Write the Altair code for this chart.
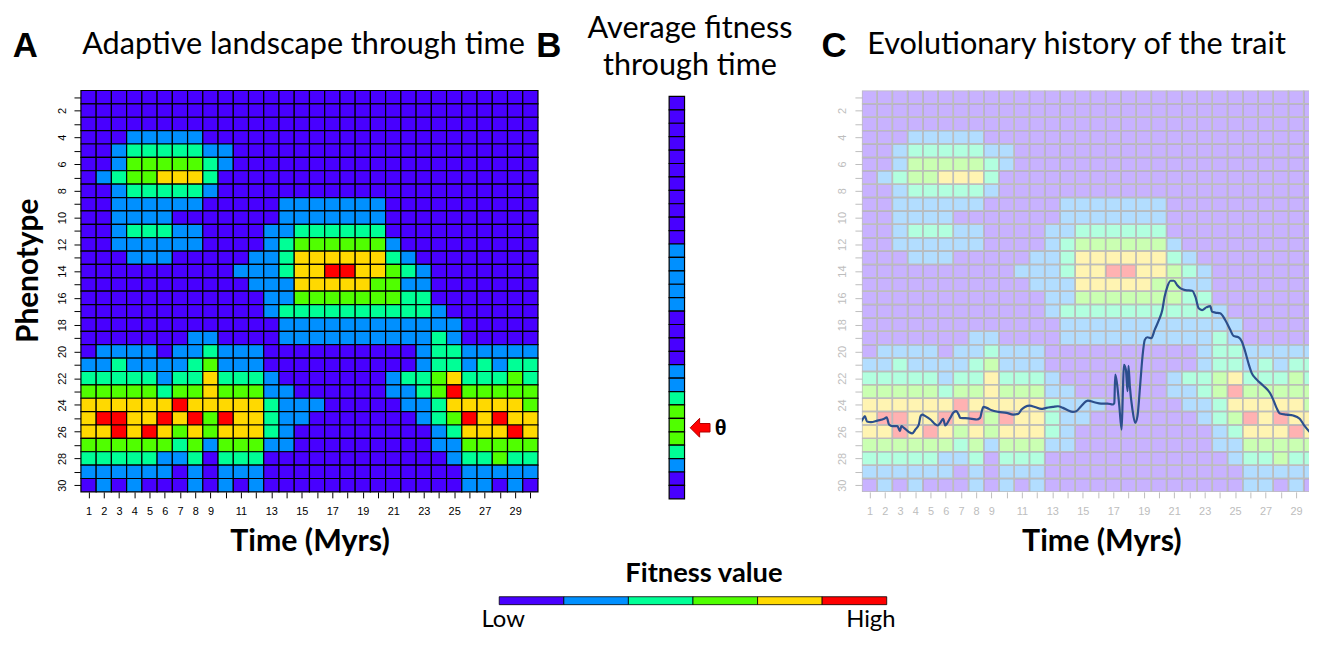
import altair as alt
import pandas as pd

# ---------------- data ----------------
levels = [0, 1, 2, 3, 4, 5]
level_colors = ["#4800FF", "#0090FF", "#00FF96", "#50FF00", "#FFD900", "#FF0000"]

# fitness class for phenotype rows 1..30 (top to bottom), time steps 1..30 (left to right)
landscape_rows = [
    "000000000000000000000000000000",
    "000000000000000000000000000000",
    "000000000000000000000000000000",
    "000111110000000000000000000000",
    "001222221100000000000000000000",
    "001333332100000000000000000000",
    "012334442000000000000000000000",
    "001222221000000000000000000000",
    "001111110000011111110000000000",
    "001111000000011111110000000000",
    "001222110000112222220000000000",
    "001111110000123333331000000000",
    "000111000001124444442100000000",
    "000000000011124455443210000000",
    "000000000001114444433110000000",
    "000000000000113333333220000000",
    "000000000000122222222221000000",
    "000000000000011111111111100000",
    "000000011000011111111112100000",
    "011110112111000000000012211111",
    "112111123111000000000012212122",
    "222221224222100000001223422232",
    "333332334333110000001123533333",
    "444444544444211100000112444443",
    "455445453544211000000012354544",
    "445454343444210000000001244454",
    "333333231333110000000001133333",
    "222221120222000000000000122322",
    "111111010111000000000000011111",
    "010100010101000000000000011010",
]

# average fitness class per phenotype (panel B)
avg_fitness = [0, 0, 0, 0, 0, 0, 0, 0, 0, 0, 0,
               1, 1, 1, 1, 1,
               0, 0, 0, 0,
               1, 1, 2, 3, 3, 3, 2, 1, 0, 0]
theta_pheno = [25.2]

# evolutionary history of the trait (panel C)
line_time = [0.26, 0.54, 0.70, 0.83, 1.09, 1.52, 1.96, 2.13, 2.28, 2.50, 2.83, 3.00,
             3.09, 3.26, 3.59, 3.80, 4.02, 4.24, 4.35, 4.46, 4.67, 5.00, 5.33, 5.48,
             5.65, 5.83, 5.98, 6.09, 6.30, 6.52, 6.70, 6.85, 6.96, 7.28, 7.72, 8.04,
             8.26, 8.37, 8.48, 8.70, 9.02, 9.46, 10.00, 10.43, 10.76, 10.98, 11.20,
             11.52, 11.85, 12.28, 12.61, 13.04, 13.37, 13.70, 14.02, 14.35, 14.57,
             14.89, 15.22, 15.33, 15.76, 16.20, 16.63, 16.96, 17.07, 17.13, 17.24,
             17.40, 17.55, 17.63, 17.70, 17.83, 17.94, 18.00, 18.09, 18.26, 18.44,
             18.59, 18.76, 18.92, 19.07, 19.24, 19.50, 19.72, 20.00, 20.22, 20.37,
             20.55, 20.76, 20.98, 21.20, 21.42, 21.74, 22.18, 22.39, 22.61, 22.83,
             23.11, 23.37, 23.48, 23.70, 24.02, 24.35, 24.68, 24.89, 25.22, 25.44,
             25.66, 25.87, 26.09, 26.42, 26.85, 27.29, 27.50, 27.72, 27.94, 28.37,
             28.81, 29.24, 29.57, 29.94]
line_pheno = [25.59, 25.09, 24.84, 25.24, 25.29, 25.17, 25.04, 24.92, 25.46, 25.59, 25.59, 25.96,
              25.59, 25.71, 26.03, 26.13, 25.83, 25.46, 24.84, 24.72, 24.84, 25.09, 25.46, 25.54,
              25.34, 25.04, 25.54, 25.39, 24.97, 24.55, 24.47, 24.72, 24.97, 24.99, 25.04, 25.09,
              24.97, 24.47, 24.15, 24.22, 24.40, 24.52, 24.59, 24.72, 24.67, 24.35, 24.15,
              24.05, 24.15, 24.30, 24.22, 24.15, 24.10, 24.22, 24.40, 24.52, 24.47,
              24.10, 23.73, 23.68, 23.80, 23.90, 23.90, 23.97, 23.85, 21.74, 22.36,
              24.10, 25.84, 23.11, 21.00, 21.37, 22.98, 21.07, 22.61, 24.35, 25.34,
              24.84, 22.61, 20.38, 19.14, 18.94, 19.01, 18.39, 17.65, 16.91, 15.91,
              15.17, 14.72, 14.72, 15.05, 15.29, 15.42, 15.47, 15.91, 16.78, 16.91,
              16.71, 16.61, 17.03, 17.10, 17.15, 17.65, 18.39, 18.84, 18.94, 19.26,
              20.01, 20.87, 21.62, 22.11, 22.56, 23.11, 23.60, 24.22, 24.64, 24.72,
              24.79, 25.04, 25.59, 26.08]

# ---------------- tables ----------------
grid_df = pd.DataFrame([
    {"time": t + 1, "pheno": r + 1, "level": int(ch)}
    for r, row in enumerate(landscape_rows) for t, ch in enumerate(row)
])
avg_df = pd.DataFrame({"pheno": list(range(1, 31)), "level": avg_fitness})
line_df = pd.DataFrame({"time": line_time, "pheno": line_pheno})
legend_df = pd.DataFrame({"level": levels})

TITLE_FONT = "Lato"
TICK_FONT = "Liberation Sans"

color_enc = alt.Color("level:O", scale=alt.Scale(domain=levels, range=level_colors), legend=None)
y_scale = alt.Scale(domain=[0.5, 30.5], nice=False, zero=False, reverse=True)


def x_axis(color, title_x, ticks):
    return alt.Axis(values=ticks, labelExpr="datum.value < 10 || datum.value % 2 == 1 ? datum.label : ''",
                    domain=False, grid=False, tickSize=6, tickColor=color, tickWidth=1,
                    labelFont=TICK_FONT, labelFontSize=11, labelColor=color, labelPadding=8,
                    labelOverlap=False, labelFlush=False, labelAngle=0, labelBound=False,
                    title="Time (Myrs)", titleFont=TITLE_FONT, titleFontSize=30.5, titleFontWeight="bold",
                    titleColor="black", titleX=title_x, titleY=59, titleAlign="center",
                    titleBaseline="alphabetic")


def y_axis(color, title):
    kw = dict(values=list(range(1, 31)), labelExpr="datum.value % 2 == 0 ? datum.label : ''",
              domain=False, grid=False, tickSize=7, tickColor=color, tickWidth=1,
              labelFont=TICK_FONT, labelFontSize=11, labelColor=color, labelPadding=7,
              labelOverlap=False, labelFlush=False, labelAngle=270, labelAlign="center",
              labelBaseline="bottom", labelBound=False)
    if title:
        kw.update(title="Phenotype", titleFont=TITLE_FONT, titleFontSize=30, titleFontWeight="bold",
                  titleColor="black", titleAngle=270, titleX=-44, titleY=181, titleAlign="center",
                  titleBaseline="alphabetic")
    else:
        kw.update(title=None)
    return alt.Axis(**kw)


def label(text, x, y, size, font, weight="normal"):
    return alt.Chart(pd.DataFrame({"t": [text]})).mark_text(
        font=font, fontSize=size, fontWeight=weight, align="center", baseline="alphabetic", color="black"
    ).encode(x=alt.value(x), y=alt.value(y), text="t:N")


# ---------------- panel A ----------------
cells_a = alt.Chart(grid_df).transform_calculate(
    t0="datum.time - 0.5", t1="datum.time + 0.5", p0="datum.pheno - 0.5", p1="datum.pheno + 0.5"
).mark_rect(stroke="black", strokeWidth=1.2).encode(
    x=alt.X("t0:Q", scale=alt.Scale(domain=[0.5, 30.5], nice=False, zero=False),
            axis=x_axis("black", 230, list(range(1, 31)))),
    x2="t1:Q",
    y=alt.Y("p0:Q", scale=y_scale, axis=y_axis("black", True)),
    y2="p1:Q",
    color=color_enc,
)
panel_a = alt.layer(
    cells_a,
    label("A", -56, -34, 35, TICK_FONT, "bold"),
    label("Adaptive landscape through time", 224, -37, 30.8, TITLE_FONT),
).properties(width=460, height=404)

# ---------------- panel B ----------------
strip_b = alt.Chart(avg_df).transform_calculate(
    x0="0", x1="1", p0="datum.pheno - 0.5", p1="datum.pheno + 0.5"
).mark_rect(stroke="black", strokeWidth=1.2).encode(
    x=alt.X("x0:Q", scale=alt.Scale(domain=[0, 1], range=[0, 15.5], nice=False, zero=False), axis=None),
    x2="x1:Q",
    y=alt.Y("p0:Q", scale=alt.Scale(domain=[0.5, 30.5], range=[6, 411], nice=False, zero=False), axis=None),
    y2="p1:Q",
    color=color_enc,
)
theta_df = pd.DataFrame({"pheno": theta_pheno, "ax": [1.98], "tx": [3.34], "t": ["θ"]})
arrow_b = alt.Chart(theta_df).mark_point(
    shape="M -1 0 L 0 -1 L 0 -0.45 L 1.1 -0.45 L 1.1 0.45 L 0 0.45 L 0 1 Z",
    size=361, filled=True, fill="#FF0000", stroke="#B00000", strokeWidth=1, opacity=1,
).encode(x=alt.X("ax:Q"), y=alt.Y("pheno:Q"))
theta_b = alt.Chart(theta_df).mark_text(
    font=TICK_FONT, fontSize=22, fontWeight="bold", align="center", baseline="middle", color="black"
).encode(x=alt.X("tx:Q"), y=alt.Y("pheno:Q"), text="t:N")
panel_b = alt.layer(
    strip_b, arrow_b, theta_b,
    label("B", -121, -34, 35, TICK_FONT, "bold"),
    label("Average fitness", 21, -52.5, 30.8, TITLE_FONT),
    label("through time", 21, -15.3, 30.8, TITLE_FONT),
).properties(width=62, height=411)

# ---------------- panel C ----------------
x_scale_c = alt.Scale(domain=[0.5, 29.85], nice=False, zero=False)
x_axis_c = x_axis("#BDBDBD", 241, list(range(1, 30)))
y_axis_c = y_axis("#BDBDBD", False)
cells_c = alt.Chart(grid_df).transform_calculate(
    t0="datum.time - 0.5", t1="datum.time + 0.5", p0="datum.pheno - 0.5", p1="datum.pheno + 0.5"
).mark_rect(stroke="#BDBDBD", strokeWidth=1.5, fillOpacity=0.3, clip=True).encode(
    x=alt.X("t0:Q", scale=x_scale_c, axis=x_axis_c),
    x2="t1:Q",
    y=alt.Y("p0:Q", scale=y_scale, axis=y_axis_c),
    y2="p1:Q",
    color=color_enc,
)
line_c = alt.Chart(line_df).mark_line(color="#2C4F8C", strokeWidth=2.2, interpolate="monotone",
                                      clip=True).encode(
    x=alt.X("time:Q", scale=x_scale_c, axis=x_axis_c),
    y=alt.Y("pheno:Q", scale=y_scale, axis=y_axis_c),
    order="time:Q",
)
panel_c = alt.layer(
    cells_c, line_c,
    label("C", -28, -34, 35, TICK_FONT, "bold"),
    label("Evolutionary history of the trait", 216, -37, 30.8, TITLE_FONT),
).properties(width=450, height=404)

# ---------------- colour key (placed under panel A's column, drawn across) ----------------
legend = alt.layer(
    alt.Chart(legend_df).transform_calculate(l1="datum.level + 1").mark_rect(
        stroke="black", strokeWidth=0.8
    ).encode(
        x=alt.X("level:Q", scale=alt.Scale(domain=[0, 6], range=[421, 811], nice=False, zero=False), axis=None),
        x2="l1:Q",
        color=color_enc,
    ),
    label("Fitness value", 627, -15, 27.5, TITLE_FONT, "bold"),
    label("Low", 425, 30, 24, TITLE_FONT),
    label("High", 795, 30, 24, TITLE_FONT),
).properties(width=460, height=8)

chart = alt.concat(
    panel_a, panel_b, panel_c, legend,
    columns=3, spacing={"row": 98.5, "column": 132}, bounds="flush", align="each",
).properties(
    padding={"left": 3.4, "top": 3, "right": 0, "bottom": 0}
).configure_view(stroke="transparent")

chart.save("out.html", embed_options={"renderer": "svg", "actions": False})
